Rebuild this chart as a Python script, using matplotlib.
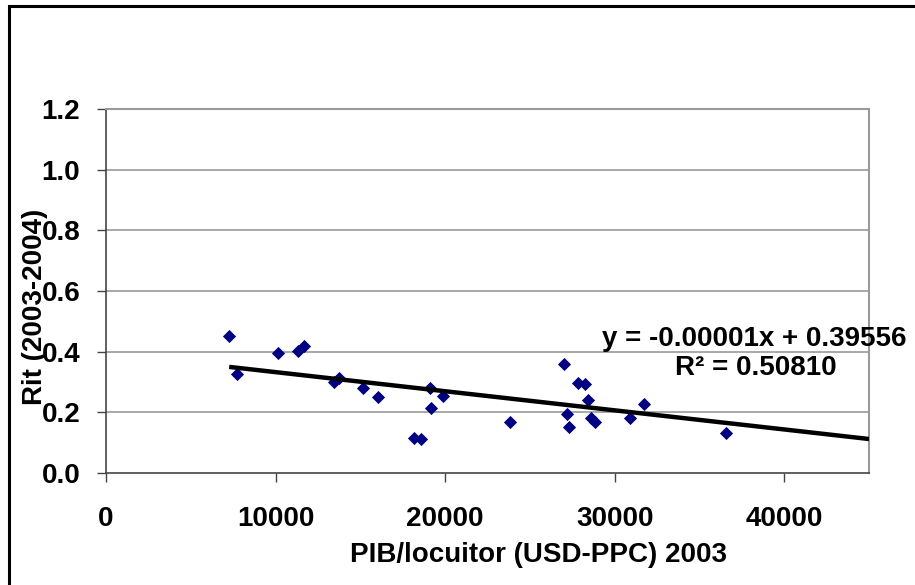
import matplotlib
matplotlib.use("Agg")
import matplotlib.pyplot as plt
import numpy as np
from matplotlib.patches import Rectangle

plt.rcParams["font.family"] = ["Liberation Sans", "DejaVu Sans"]
plt.rcParams["font.weight"] = "bold"

# PIB per capita 2003 (USD-PPC) vs. ritm 2003-2004
pib = [7265, 7740, 10160, 11340, 11700, 13470, 13760, 15180, 16070, 18190,
       18550, 19080, 19140, 19850, 23800, 26990, 27170, 27290, 27820, 28230,
       28410, 28590, 28820, 30890, 31720, 36560]
rit = [0.452, 0.327, 0.396, 0.403, 0.419, 0.300, 0.314, 0.280, 0.251, 0.116,
       0.112, 0.281, 0.215, 0.254, 0.168, 0.360, 0.195, 0.152, 0.297, 0.294,
       0.241, 0.182, 0.168, 0.182, 0.228, 0.132]

slope = -0.0000063
intercept = 0.39556
r2 = 0.50810

x_ticks = [0, 10000, 20000, 30000, 40000]
y_ticks = [0.0, 0.2, 0.4, 0.6, 0.8, 1.0, 1.2]

FS = 20

fig = plt.figure(figsize=(9.15, 5.85), dpi=100)
ax = fig.add_axes([106 / 915, 1 - 473 / 585, (869 - 106) / 915, (473 - 109) / 585])

# outer chart frame
fig.patches.append(Rectangle((9 / 915, -0.05), 1.1, 1 - 6 / 585 + 0.05,
                             transform=fig.transFigure, fill=False,
                             edgecolor="black", linewidth=2.2, clip_on=False))

for yv in y_ticks[1:]:
    ax.axhline(yv, color="#9a9a9a", linewidth=1.2, zorder=0)

ax.scatter(pib, rit, marker="D", s=45, color="#000080", zorder=3, linewidths=0)

xs = np.array([min(pib), 45000])
ax.plot(xs, slope * xs + intercept, color="black", linewidth=3.2, zorder=4,
        solid_capstyle="butt")

ax.set_xlim(0, 45000)
ax.set_ylim(0, 1.2)
ax.set_xticks(x_ticks)
ax.set_yticks(y_ticks)
ax.set_xticklabels([str(v) for v in x_ticks])
ax.set_yticklabels([f"{v:.1f}" for v in y_ticks])
ax.tick_params(axis="both", direction="out", length=6.5, width=1, color="#444444",
               labelsize=FS)
ax.tick_params(axis="y", pad=12)
ax.tick_params(axis="x", pad=17)
for side in ["top", "right"]:
    ax.spines[side].set_color("#9a9a9a")
    ax.spines[side].set_linewidth(1.5)
for side in ["left", "bottom"]:
    ax.spines[side].set_color("#444444")
    ax.spines[side].set_linewidth(1.2)

fig.text(538 / 915, 1 - 555 / 585, "PIB/locuitor (USD-PPC) 2003", fontsize=FS,
         fontweight="bold", ha="center", va="center")
fig.text(35 / 915, 1 - 307 / 585, "Rit (2003-2004)", rotation=90, fontsize=FS,
         fontweight="bold", ha="center", va="center")

eq = f"y = {slope:.5f}x + {intercept:.5f}"
fig.text(754 / 915, 1 - 339 / 585, eq, fontsize=FS, fontweight="bold",
         ha="center", va="center")
fig.text(756 / 915, 1 - 368 / 585, f"R² = {r2:.5f}", fontsize=FS,
         fontweight="bold", ha="center", va="center")

fig.savefig("out.png", dpi=100, facecolor="white")
